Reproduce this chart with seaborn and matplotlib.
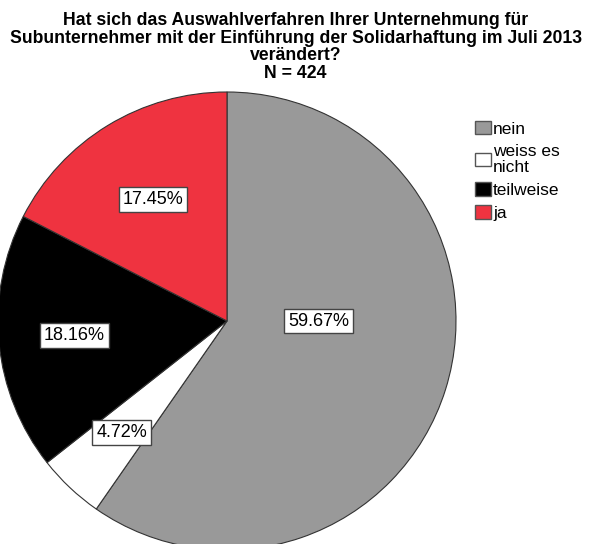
import matplotlib
matplotlib.use("Agg")
import numpy as np
import matplotlib.pyplot as plt
import seaborn as sns
from matplotlib.patches import Patch

sns.set_theme(style="white")
plt.rcParams['font.family'] = ['Liberation Sans', 'DejaVu Sans']
plt.rcParams['text.color'] = 'black'

categories = ["nein", "weiss es nicht", "teilweise", "ja"]
legend_labels = ["nein", "weiss es\nnicht", "teilweise", "ja"]
values = [59.67, 4.72, 18.16, 17.45]
colors = ["#999999", "#FFFFFF", "#000000", "#EF3340"]
title = ("Hat sich das Auswahlverfahren Ihrer Unternehmung für\n"
         "Subunternehmer mit der Einführung der Solidarhaftung im Juli 2013\n"
         "verändert?\nN = 424")
label_dist = [0.40, 0.67, 0.67, 0.62]

W, H = 591, 544
fig = plt.figure(figsize=(W / 100, H / 100), dpi=100)
ax = fig.add_axes([0, 0, 1, 1])

cx, cy, r = 227, H - 321, 229
wedges, texts, autotexts = ax.pie(
    values, colors=colors, startangle=90, counterclock=False,
    center=(cx, cy), radius=r, autopct="%.2f%%", pctdistance=0.66,
    wedgeprops=dict(edgecolor="#333333", linewidth=0.8),
    textprops=dict(fontsize=13, color="black"), frame=True)
ax.set_xlim(0, W)
ax.set_ylim(0, H)
ax.set_aspect("equal")
ax.axis("off")

for i, (t, w) in enumerate(zip(autotexts, wedges)):
    t.set_bbox(dict(boxstyle="square,pad=0.22", facecolor="white",
                    edgecolor="#444444", linewidth=1))
    if i == 0:
        ang = 0.0  # large slice label sits right of centre
    else:
        ang = np.deg2rad((w.theta1 + w.theta2) / 2)
    d = label_dist[i] * r
    t.set_position((cx + d * np.cos(ang), cy + d * np.sin(ang)))

fig.text(0.5, 1 - 12 / H, title, ha="center", va="top", fontsize=12.7,
         fontweight="bold", linespacing=1.05, color="black")

handles = [Patch(facecolor=c, edgecolor="#555555", linewidth=1) for c in colors]
leg = fig.legend(handles, legend_labels, loc="upper left",
                 bbox_to_anchor=(475 / W, 1 - 121 / H), frameon=False,
                 fontsize=12.5, handlelength=0.92, handleheight=0.8,
                 handletextpad=0.12, labelspacing=0.42, borderpad=0,
                 borderaxespad=0)
for t in leg.get_texts():
    t.set_color("black")
    t.set_linespacing(1.1)

fig.savefig("out.png", dpi=100)
